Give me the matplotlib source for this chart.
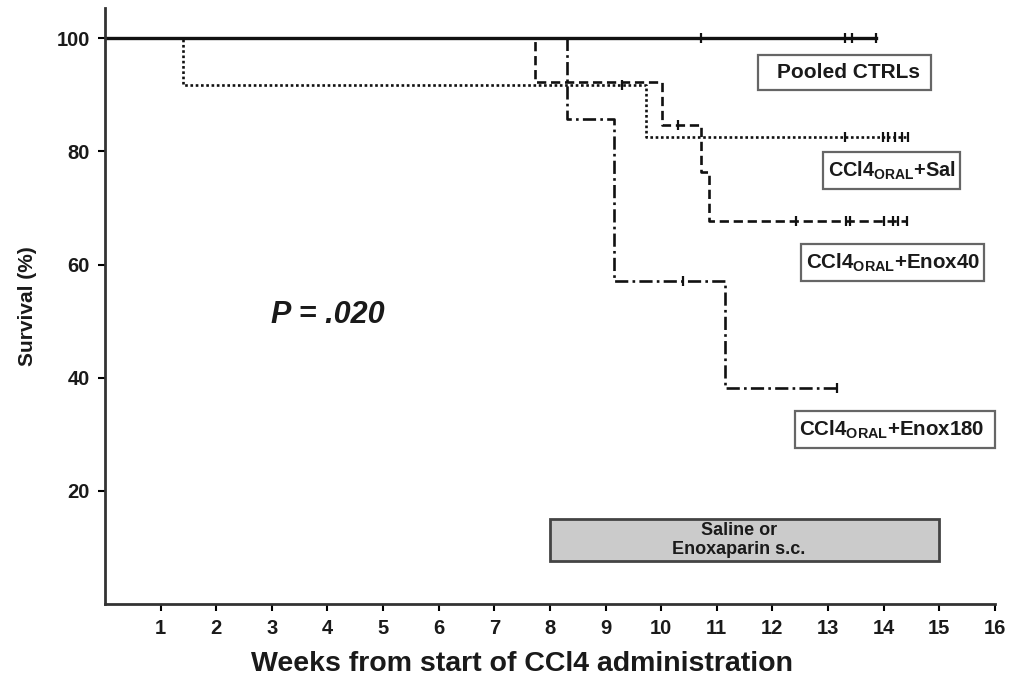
"""
Kaplan-Meier survival curves: pooled controls vs CCl4 oral + saline / enoxaparin.
Saves out.png
"""
import matplotlib
matplotlib.use("Agg")
import matplotlib.pyplot as plt
from matplotlib.patches import Rectangle

plt.rcParams["font.family"] = ["Liberation Sans", "DejaVu Sans"]
plt.rcParams["mathtext.fontset"] = "custom"
plt.rcParams["mathtext.rm"] = "Liberation Sans:bold"
plt.rcParams["mathtext.bf"] = "Liberation Sans:bold"
plt.rcParams["mathtext.it"] = "Liberation Sans:bold:italic"

# step curves: time where survival changes -> survival from that time on
ctrl_t = [0, 13.86]
ctrl_s = [100, 100]
ctrl_cens_t = [10.72, 13.30, 13.43, 13.86]
ctrl_cens_s = [100, 100, 100, 100]

sal_t = [0, 1.41, 9.73, 14.44]
sal_s = [100, 91.7, 82.5, 82.5]
sal_cens_t = [9.30, 13.30, 13.99, 14.08, 14.20, 14.33, 14.44]
sal_cens_s = [91.7, 82.5, 82.5, 82.5, 82.5, 82.5, 82.5]

e40_t = [0, 7.74, 10.02, 10.72, 10.86, 14.42]
e40_s = [100, 92.3, 84.6, 76.4, 67.7, 67.7]
e40_cens_t = [10.30, 12.42, 13.33, 13.39, 14.00, 14.17, 14.26, 14.42]
e40_cens_s = [84.6, 67.7, 67.7, 67.7, 67.7, 67.7, 67.7, 67.7]

e180_t = [0, 8.30, 9.16, 11.15, 13.16]
e180_s = [100, 85.7, 57.1, 38.1, 38.1]
e180_cens_t = [10.40, 13.16]
e180_cens_s = [57.1, 38.1]

labels = ["Pooled CTRLs",
          r"CCl4$_{\mathrm{ORAL}}$+Sal",
          r"CCl4$_{\mathrm{ORAL}}$+Enox40",
          r"CCl4$_{\mathrm{ORAL}}$+Enox180"]
# label boxes in data units: (x0, x1, y0, y1), text centre x and size
label_boxes = [(11.74, 14.85, 90.8, 97.0),
               (12.91, 15.37, 73.3, 79.9),
               (12.51, 15.80, 57.1, 63.6),
               (12.41, 16.00, 27.6, 34.1)]
label_x = [13.36, 14.14, 14.17, 14.15]
label_size = [15, 14.3, 14.8, 14.8]

x_ticks = list(range(1, 17))
y_ticks = [20, 40, 60, 80, 100]
treat_start, treat_end = 8, 15      # weeks of s.c. treatment
p_text = "P = .020"

ink = "#111111"
fig = plt.figure(figsize=(10.1, 6.81), dpi=100)
ax = fig.add_axes([0.104, 0.113, 0.881, 0.875])

series = [
    (ctrl_t, ctrl_s, ctrl_cens_t, ctrl_cens_s, "-", 2.4),
    (sal_t, sal_s, sal_cens_t, sal_cens_s, (0, (1, 1.0)), 1.9),
    (e40_t, e40_s, e40_cens_t, e40_cens_s, (0, (3.5, 1.8)), 1.9),
    (e180_t, e180_s, e180_cens_t, e180_cens_s, (0, (5, 1.6, 1, 1.6)), 1.9),
]
for t, s, ct, cs, ls, lw in series:
    ax.plot(t, s, drawstyle="steps-post", color=ink, linestyle=ls, linewidth=lw)
    ax.plot(ct, cs, linestyle="none", marker="|", markersize=7, mew=1.6, color=ink)

for lab, (x0, x1, y0, y1), tx, fs in zip(labels, label_boxes, label_x, label_size):
    ax.add_patch(Rectangle((x0, y0), x1 - x0, y1 - y0, fc="white",
                           ec="#666666", lw=1.6, clip_on=False, zorder=3))
    ax.text(tx, (y0 + y1) / 2, lab, ha="center", va="center", fontsize=fs,
            fontweight="bold", color="#1a1a1a", zorder=4)

ax.add_patch(Rectangle((treat_start, 7.6), treat_end - treat_start, 7.4,
                       fc="#cbcbcb", ec="#444444", lw=2, zorder=1))
ax.text(11.4, 11.3, "Saline or\nEnoxaparin s.c.", ha="center", va="center",
        fontsize=13, fontweight="bold", linespacing=1.2, color="#1a1a1a")

ax.text(4.0, 51, p_text, ha="center", va="center", fontsize=22,
        fontweight="bold", fontstyle="italic", color="#1a1a1a")

ax.set_xlim(0, 16)
ax.set_ylim(0, 105.3)
ax.set_xticks(x_ticks)
ax.set_yticks(y_ticks)
ax.tick_params(direction="out", length=5, width=1.5, labelsize=14.5, pad=6,
               labelcolor="#1a1a1a")
for lab in ax.get_xticklabels() + ax.get_yticklabels():
    lab.set_fontweight("bold")
for side in ["top", "right"]:
    ax.spines[side].set_visible(False)
for side in ["left", "bottom"]:
    ax.spines[side].set_linewidth(2)
    ax.spines[side].set_color("#333333")

ax.set_xlabel("Weeks from start of CCl4 administration", fontsize=20.5,
              fontweight="bold", color="#1a1a1a")
ax.xaxis.set_label_coords(0.469, -0.079)
ax.set_ylabel("Survival (%)", fontsize=15, fontweight="bold", labelpad=14,
              color="#1a1a1a")

fig.savefig("out.png", dpi=100)
